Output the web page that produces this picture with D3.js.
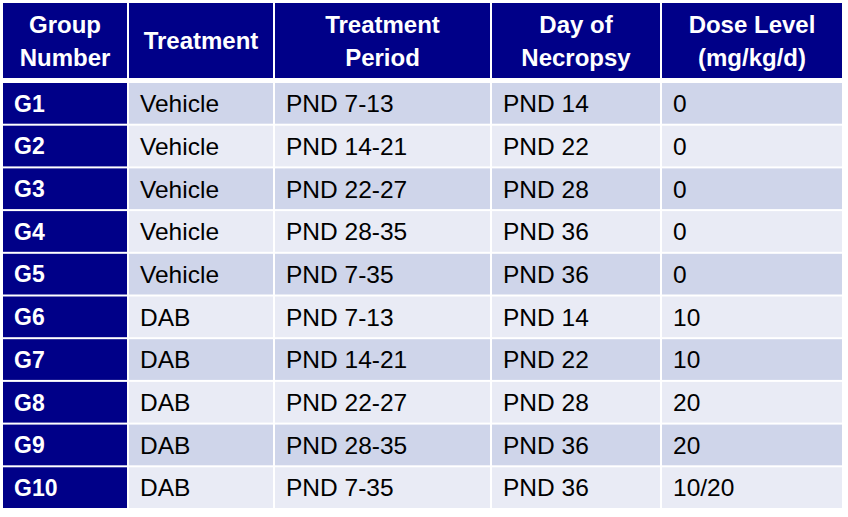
<!DOCTYPE html>
<html>
<head>
<meta charset="utf-8">
<script src="https://cdn.jsdelivr.net/npm/d3@7"></script>
<style>
  body { margin: 0; background: white; }
  text { font-family: "Liberation Sans", Arial, sans-serif; }
</style>
</head>
<body>
<div class="display"></div>
<script>
const width = 848;
const height = 517;

const headers = [['Group', 'Number'], ['Treatment'], ['Treatment', 'Period'], ['Day of', 'Necropsy'], ['Dose Level', '(mg/kg/d)']];
const groups = ['G1', 'G2', 'G3', 'G4', 'G5', 'G6', 'G7', 'G8', 'G9', 'G10'];
const treatments = ['Vehicle', 'Vehicle', 'Vehicle', 'Vehicle', 'Vehicle', 'DAB', 'DAB', 'DAB', 'DAB', 'DAB'];
const periods = ['PND 7-13', 'PND 14-21', 'PND 22-27', 'PND 28-35', 'PND 7-35', 'PND 7-13', 'PND 14-21', 'PND 22-27', 'PND 28-35', 'PND 7-35'];
const necropsy = ['PND 14', 'PND 22', 'PND 28', 'PND 36', 'PND 36', 'PND 14', 'PND 22', 'PND 28', 'PND 36', 'PND 36'];
const doses = ['0', '0', '0', '0', '0', '10', '10', '20', '20', '10/20'];

const colEdges = [2, 128, 274, 491, 661, 843];
const headerTop = 3, headerBottom = 78, bodyTop = 82, bodyBottom = 509;
const navy = '#000088';

const rows = groups.map((g, i) => [g, treatments[i], periods[i], necropsy[i], doses[i]]);

const x = d3.scaleOrdinal().domain(d3.range(5)).range(colEdges.slice(0, 5));
const colW = i => colEdges[i + 1] - colEdges[i];
const y = d3.scaleBand().domain(d3.range(rows.length)).range([bodyTop, bodyBottom]);

const svg = d3.select('.display')
    .append('svg')
    .attr('width', width)
    .attr('height', height);

// header
const head = svg.append('g');
headers.forEach((lines, i) => {
    head.append('rect')
        .attr('x', x(i) + 1).attr('y', headerTop)
        .attr('width', colW(i) - 2).attr('height', headerBottom - headerTop)
        .attr('fill', navy);
    const cx = x(i) + colW(i) / 2;
    const mid = (headerTop + headerBottom) / 2;
    lines.forEach((line, j) => {
        head.append('text')
            .attr('x', cx)
            .attr('y', mid + (j - (lines.length - 1) / 2) * 33)
            .attr('dy', '0.36em')
            .attr('text-anchor', 'middle')
            .attr('font-size', 24)
            .attr('font-weight', 'bold')
            .attr('fill', 'white')
            .text(line);
    });
});

// body
const body = svg.append('g');
rows.forEach((row, r) => {
    row.forEach((val, c) => {
        body.append('rect')
            .attr('x', x(c) + 1).attr('y', y(r) + 1)
            .attr('width', colW(c) - 2).attr('height', y.bandwidth() - 2)
            .attr('fill', c === 0 ? navy : (r % 2 === 0 ? '#cfd5ea' : '#e9ebf5'));
        body.append('text')
            .attr('x', x(c) + 12)
            .attr('y', y(r) + y.bandwidth() / 2)
            .attr('dy', '0.36em')
            .attr('font-size', c === 0 ? 23 : 24.5)
            .attr('font-weight', c === 0 ? 'bold' : 'normal')
            .attr('fill', c === 0 ? 'white' : 'black')
            .text(val);
    });
});
</script>
</body>
</html>
